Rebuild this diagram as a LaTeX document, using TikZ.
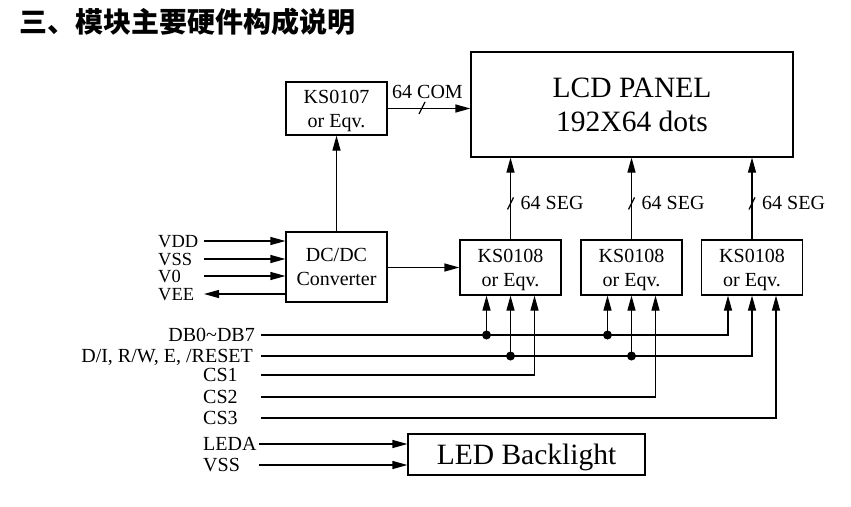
\documentclass[tikz,border=0pt]{standalone}
\usepackage{fontspec}
\setmainfont{Liberation Serif}
\newfontfamily\cjk{Noto Sans CJK SC}
\usetikzlibrary{arrows.meta,positioning}

\tikzset{
  blk/.style={draw, line width=1.2pt, inner sep=0pt, align=center, text depth=0pt,
    font=\fontsize{20}{24}\selectfont},
  sig/.style={line width=1.2pt},
  arr/.style={sig, -{Triangle[length=15pt,width=8pt]}},
  lbl/.style={inner sep=0pt, text height=13pt, text depth=0pt,
    font=\fontsize{20}{20}\selectfont},
  pwr/.style={lbl, anchor=west, text height=12pt, font=\fontsize{18.5}{18.5}\selectfont},
  dot/.style={circle, fill, inner sep=0pt, minimum size=9pt},
}

\begin{document}
\begin{tikzpicture}[x=1pt,y=-1pt]
  \useasboundingbox (0,0) rectangle (851,506);
  \node[anchor=west, inner sep=0pt, font=\cjk\bfseries\fontsize{28}{28}\selectfont]
    (title) at (19,22) {三、模块主要硬件构成说明};

  % blocks
  \node[blk, minimum width=322pt, minimum height=105pt,
    font=\fontsize{29.5}{34}\selectfont] (lcd) at (632,104.5) {LCD PANEL\\192X64 dots};
  \node[blk, minimum width=101pt, minimum height=53pt] (com) at (336.5,108.5) {KS0107\\or Eqv.};
  \node[blk, minimum width=101pt, minimum height=70pt] (dc) at (336.5,267) {DC/DC\\Converter};
  \node[blk, minimum width=101pt, minimum height=55pt] (s1) at (510.5,267.5) {KS0108\\or Eqv.};
  \node[blk, minimum width=101pt, minimum height=55pt] (s2) at (631.5,267.5) {KS0108\\or Eqv.};
  \node[blk, minimum width=101pt, minimum height=55pt] (s3) at (752,267.5) {KS0108\\or Eqv.};
  \node[blk, minimum width=237pt, minimum height=41pt,
    font=\fontsize{29.5}{29.5}\selectfont] (led) at (526.5,454.5) {LED Backlight};

  % COM and SEG outputs
  \draw[arr] (com.east) -- (com.east -| lcd.west);
  \draw[sig] (422,108) +(-3,6) -- +(3,-6);
  \node[lbl, anchor=west] (comlbl) at (392,92) {64 COM};
  \foreach \s in {s1,s2,s3}{
    \draw[arr] (\s.north) -- (\s.north |- lcd.south);
    \draw[sig] ([yshift=36pt]\s.north) +(-3,6) -- +(3,-6);
    \node[lbl, anchor=west] (\s lbl) at ([xshift=10pt,yshift=36pt]\s.north) {64 SEG};
  }
  \draw[arr] (dc.north) -- (com.south);
  \draw[arr] (dc.east |- s1.west) -- (s1.west);

  % power inputs
  \coordinate (inx) at (204,0);
  \node[pwr] (vdd) at (158,241) {VDD};
  \node[pwr] (vss) at (158,259) {VSS};
  \node[pwr] (vo) at (158,276) {V0};
  \node[pwr] (vee) at (158,294) {VEE};
  \draw[arr] (inx |- vdd) -- (vdd -| dc.west);
  \draw[arr] (inx |- vss) -- (vss -| dc.west);
  \draw[arr] (inx |- vo) -- (vo -| dc.west);
  \draw[arr] (vee -| dc.west) -- (inx |- vee);

  % bus
  \coordinate (bx) at (261,0);
  \node[lbl, anchor=east] (db) at (255,335) {DB0\textasciitilde DB7};
  \node[lbl, anchor=east] (ctl) at (253,356) {D/I, R/W, E, /RESET};
  \node[lbl, anchor=west] (cs1) at (203,375) {CS1};
  \node[lbl, anchor=west] (cs2) at (203,397) {CS2};
  \node[lbl, anchor=west] (cs3) at (203,418) {CS3};
  \foreach \s in {s1,s2,s3}{
    \coordinate (\s a) at ([xshift=-24pt]\s.south);
    \coordinate (\s b) at (\s.south);
    \coordinate (\s c) at ([xshift=24pt]\s.south);
  }
  \draw[arr] (bx |- db) -| (s3a);
  \draw[arr] (bx |- ctl) -| (s3b);
  \draw[arr] (bx |- cs1) -| (s1c);
  \draw[arr] (bx |- cs2) -| (s2c);
  \draw[arr] (bx |- cs3) -| (s3c);
  \foreach \s in {s1,s2}{
    \draw[arr] (\s a |- db) node[dot] (j\s a) {} -- (\s a);
    \draw[arr] (\s b |- ctl) node[dot] (j\s b) {} -- (\s b);
  }

  % backlight
  \coordinate (lx) at (259,0);
  \node[lbl, anchor=west] (leda) at (203,444) {LEDA};
  \node[lbl, anchor=west] (vssb) at (203,465) {VSS};
  \draw[arr] (lx |- leda) -- (leda -| led.west);
  \draw[arr] (lx |- vssb) -- (vssb -| led.west);
\end{tikzpicture}
\end{document}
